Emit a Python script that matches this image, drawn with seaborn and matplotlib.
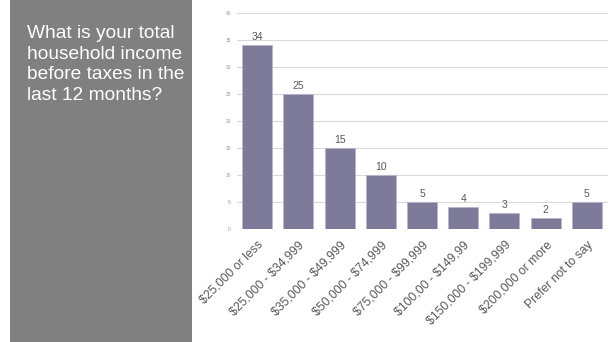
import matplotlib
matplotlib.use("Agg")
import matplotlib.pyplot as plt
import seaborn as sns
import pandas as pd

categories = ["$25,000 or less", "$25,000 - $34,999", "$35,000 - $49,999",
              "$50,000 - $74,999", "$75,000 - $99,999", "$100,00 - $149,99",
              "$150,000 - $199,999", "$200,000 or more", "Prefer not to say"]
counts = [34, 25, 15, 10, 5, 4, 3, 2, 5]
y_ticks = [0, 5, 10, 15, 20, 25, 30, 35, 40]
question = "What is your total\nhousehold income\nbefore taxes in the\nlast 12 months?"

sns.set_style("white")
plt.rcParams['font.family'] = ['Liberation Sans', 'DejaVu Sans']
plt.rcParams['text.parse_math'] = False

df = pd.DataFrame({"income": categories, "count": counts})

fig = plt.figure(figsize=(6.12, 3.42), dpi=100)

# grey question panel on the left
panel = fig.add_axes([10 / 612, 0, 182 / 612, 1])
panel.set_facecolor("#808080")
panel.set_xticks([])
panel.set_yticks([])
for s in panel.spines.values():
    s.set_visible(False)
panel.text(17 / 182, 1 - 25 / 342, question, transform=panel.transAxes,
           color="white", fontsize=13.8, va="top", ha="left", linespacing=1.28)

ax = fig.add_axes([236.5 / 612, 1 - 229 / 342, 371 / 612, 216 / 342])
sns.barplot(data=df, x="income", y="count", color="#7e7a9a", saturation=1,
            width=0.73, edgecolor="#b9b6cc", linewidth=0.6, ax=ax, zorder=3)
ax.set_ylim(0, 40)
ax.set_yticks(y_ticks)
ax.set_yticklabels([str(t) for t in y_ticks], fontsize=3.5, color="#999999")
ax.grid(axis="y", color="#d9d9d9", linewidth=0.8, zorder=0)
ax.set_axisbelow(True)
for s in ax.spines.values():
    s.set_visible(False)
ax.tick_params(axis="both", length=0, pad=4)
ax.tick_params(axis="x", pad=7)
ax.set_xlabel("")
ax.set_ylabel("")
ax.set_xticks(range(len(categories)))
ax.set_xticklabels(categories, rotation=45, ha="right", rotation_mode="anchor",
                   fontsize=8.8, color="#595959")

for i, v in enumerate(counts):
    ax.text(i, v + 0.6, str(v), ha="center", va="bottom", fontsize=7.5, color="#595959")

fig.savefig("out.png", dpi=100)
